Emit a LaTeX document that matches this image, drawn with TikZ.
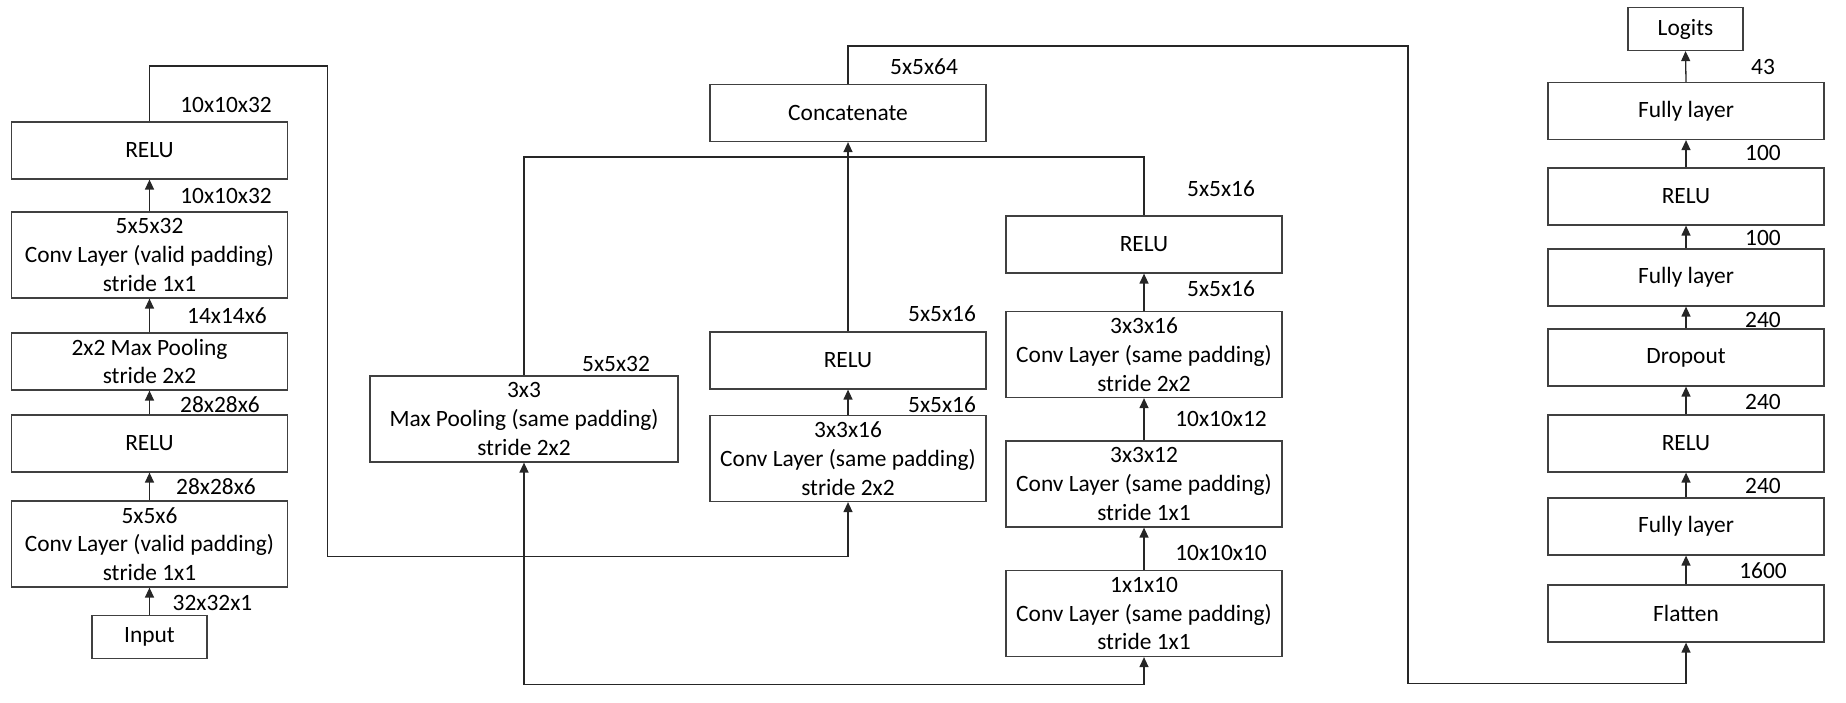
\documentclass[tikz,border=0pt]{standalone}
\usepackage{fontspec}
\setmainfont{Carlito}
\usetikzlibrary{arrows.meta, calc}

\newcommand\layerfont{\fontsize{11.7}{14.35}\selectfont}

\tikzset{
  layer/.style={draw=black!75, line width=0.6pt, minimum width=138pt, minimum height=28.5pt,
                inner sep=1pt, align=center, font=\layerfont},
  tall/.style={minimum height=43pt},
  small/.style={minimum width=57.5pt, minimum height=21.5pt},
  dim/.style={font=\layerfont, inner sep=0pt},
  flow/.style={line width=0.65pt, draw=black!85, -{Triangle[length=5pt,width=4.5pt]}},
  wire/.style={line width=0.65pt, draw=black!85},
}

% tensor size next to a connector
\newcommand\dims[4]{
    \node [dim] (#1) at (#2,#3) {#4};
}

\begin{document}
\begin{tikzpicture}[x=0.5pt, y=-0.5pt]

\useasboundingbox (0,0) rectangle (1846,702);

% Left column
\node [layer, small] (input) at (149.5,637)   {Input};
\node [layer, tall]  (conv1) at (149.5,544)   {5x5x6\\Conv Layer (valid padding)\\stride 1x1};
\node [layer]        (relu1) at (149.5,443.5) {RELU};
\node [layer]        (pool1) at (149.5,361.5) {2x2 Max Pooling\\stride 2x2};
\node [layer, tall]  (conv2) at (149.5,255)   {5x5x32\\Conv Layer (valid padding)\\stride 1x1};
\node [layer]        (relu2) at (149.5,150.5) {RELU};

% Inception block
\node [layer, tall, minimum width=154pt] (pool2) at (524,419) {3x3\\Max Pooling (same padding)\\stride 2x2};
\node [layer, tall] (conv3)  at (848,458.5)  {3x3x16\\Conv Layer (same padding)\\stride 2x2};
\node [layer]       (relu3)  at (848,360.5)  {RELU};
\node [layer]       (concat) at (848,113)    {Concatenate};
\node [layer, tall] (conv4)  at (1144,613.5) {1x1x10\\Conv Layer (same padding)\\stride 1x1};
\node [layer, tall] (conv5)  at (1144,484)   {3x3x12\\Conv Layer (same padding)\\stride 1x1};
\node [layer, tall] (conv6)  at (1144,354.5) {3x3x16\\Conv Layer (same padding)\\stride 2x2};
\node [layer]       (relu4)  at (1144,244.5) {RELU};

% Classifier
\node [layer]        (flatten) at (1686,613.5) {Flatten};
\node [layer]        (fc1)     at (1686,526.5) {Fully layer};
\node [layer]        (relu5)   at (1686,443.5) {RELU};
\node [layer]        (dropout) at (1686,357.5) {Dropout};
\node [layer]        (fc2)     at (1686,277.5) {Fully layer};
\node [layer]        (relu6)   at (1686,196.5) {RELU};
\node [layer]        (fc3)     at (1686,111)   {Fully layer};
\node [layer, small] (logits)  at (1685.5,29)  {Logits};

% Straight links
\draw [flow] (input.north) -- (conv1.south);
\draw [flow] (conv1.north) -- (relu1.south);
\draw [flow] (relu1.north) -- (pool1.south);
\draw [flow] (pool1.north) -- (conv2.south);
\draw [flow] (conv2.north) -- (relu2.south);
\draw [flow] (conv3.north) -- (relu3.south);
\draw [flow] (relu3.north) -- (concat.south);
\draw [flow] (conv4.north) -- (conv5.south);
\draw [flow] (conv5.north) -- (conv6.south);
\draw [flow] (conv6.north) -- (relu4.south);
\draw [flow] (flatten.north) -- (fc1.south);
\draw [flow] (fc1.north) -- (relu5.south);
\draw [flow] (relu5.north) -- (dropout.south);
\draw [flow] (dropout.north) -- (fc2.south);
\draw [flow] (fc2.north) -- (relu6.south);
\draw [flow] (relu6.north) -- (fc3.south);
\draw [flow] (fc3.north) -- (logits.south);

% Routed links
\coordinate (topL)   at (327.5,66);
\coordinate (branch) at (327.5,556.5);
\coordinate (split)  at (524,556.5);
\coordinate (bottom) at (524,684.5);
\coordinate (merge)  at (1144,157);
\coordinate (topR)   at (1408,46);
\coordinate (downR)  at (1408,683.5);

\draw [flow] (relu2.north) |- (topL) -- (branch) -| (conv3.south);
\draw [flow] (split) -- (pool2.south);
\draw [flow] (split) -- (bottom) -| (conv4.south);
\draw [wire] (pool2.north) |- (merge) -- (relu4.north);
\draw [flow] (concat.north) |- (topR) -- (downR) -| (flatten.south);

% Sizes
\dims{s1}{212.5}{603}{32x32x1}
\dims{s2}{216}{487}{28x28x6}
\dims{s3}{220}{405}{28x28x6}
\dims{s4}{227}{316}{14x14x6}
\dims{s5}{226}{196}{10x10x32}
\dims{s6}{226}{105}{10x10x32}

\dims{s7}{616}{364}{5x5x32}
\dims{s8}{942}{405}{5x5x16}
\dims{s9}{942}{314}{5x5x16}
\dims{s10}{924}{67}{5x5x64}
\dims{s11}{1221}{553}{10x10x10}
\dims{s12}{1221}{419}{10x10x12}
\dims{s13}{1221}{289}{5x5x16}
\dims{s14}{1221}{189}{5x5x16}

\dims{s15}{1763}{571}{1600}
\dims{s16}{1763}{486}{240}
\dims{s17}{1763}{402}{240}
\dims{s18}{1763}{320}{240}
\dims{s19}{1763}{238}{100}
\dims{s20}{1763}{153}{100}
\dims{s21}{1763}{67}{43}

\end{tikzpicture}
\end{document}
